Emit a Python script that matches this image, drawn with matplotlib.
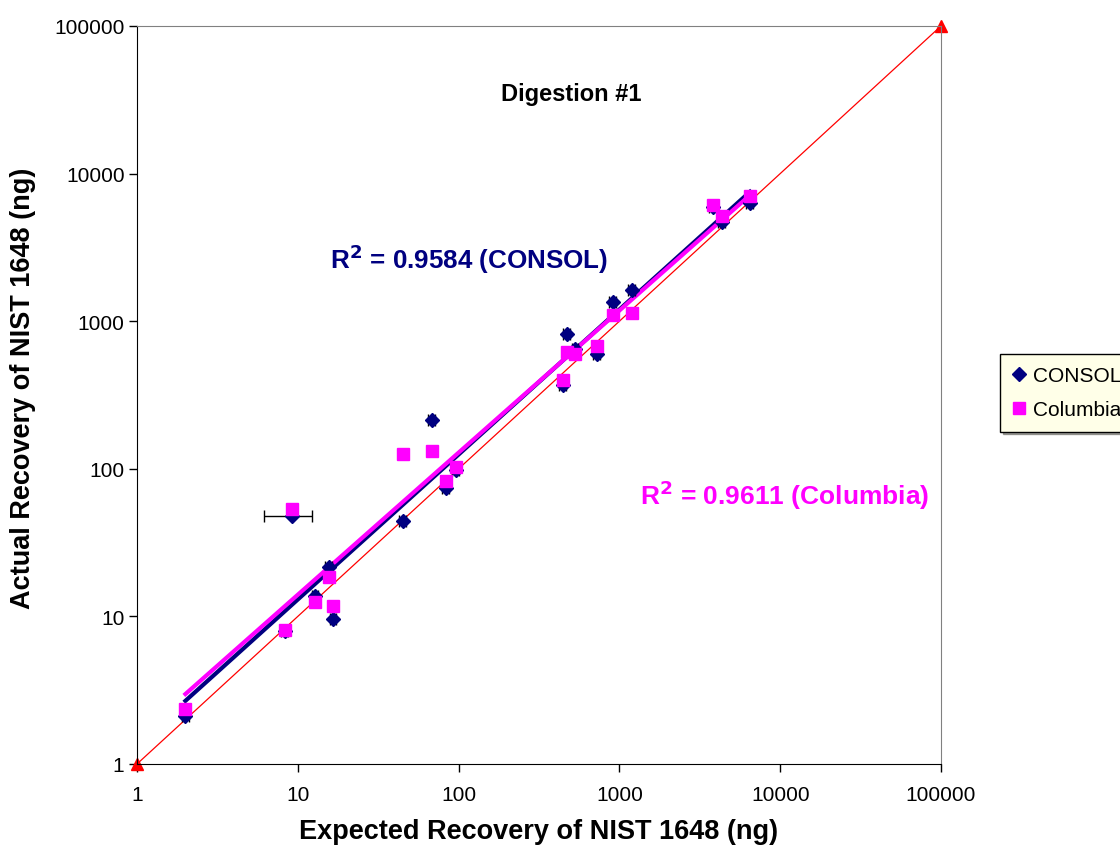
import numpy as np
import matplotlib
matplotlib.use("Agg")
import matplotlib.pyplot as plt
from matplotlib.ticker import FixedLocator, FixedFormatter, NullLocator

plt.rcParams['font.family'] = ['Liberation Sans', 'DejaVu Sans']

# expected recovery (ng) and measured recovery for each lab
expected = [2, 8.3, 9.2, 12.8, 15.6, 16.6, 45, 68, 83, 96,
            446, 472, 530, 726, 912, 1197, 3820, 4347, 6490]
consol = [2.1, 8.0, 48, 13.8, 21.6, 9.6, 44, 215, 74, 98,
          370, 819, 650, 600, 1350, 1630, 5900, 4700, 6300]
columbia = [2.35, 8.1, 53, 12.5, 18.5, 11.8, 126, 132, 83, 103,
            400, 618, 600, 679, 1100, 1137, 6100, 5160, 7050]
# horizontal uncertainty on expected values (CONSOL)
expected_err = [0.1, 0.4, 3.0, 0.6, 0.8, 0.8, 2.2, 3.4, 4.0, 4.8,
                22, 24, 26, 36, 45, 60, 190, 215, 320]
one_to_one = [1, 100000]
ticks = [1, 10, 100, 1000, 10000, 100000]
tick_labels = ["1", "10", "100", "1000", "10000", "100000"]

NAVY = "#000080"
MAGENTA = "#FF00FF"

fig = plt.figure(figsize=(11.2, 8.53), dpi=100)
ax = fig.add_axes([137/1120, 1-765/853, (941-137)/1120, (765-27)/853])
ax.set_xscale("log")
ax.set_yscale("log")
ax.set_xlim(1, 100000)
ax.set_ylim(1, 100000)

# 1:1 line
ax.plot(one_to_one, one_to_one, color="red", lw=0.9, marker="^", ms=9,
        clip_on=False, zorder=2)

# power trendlines (straight on log-log axes)
x = np.array(expected)
xs = np.sort(x)
for y, c in [(np.array(consol), NAVY), (np.array(columbia), MAGENTA)]:
    k, b = np.polyfit(np.log10(x), np.log10(y), 1)
    ax.plot(xs, 10**(k*np.log10(xs) + b), color=c, lw=3, zorder=3)

ax.errorbar(expected, consol, xerr=expected_err, fmt="D", color=NAVY, ms=7,
            ecolor="black", elinewidth=1, capsize=4, capthick=1, zorder=4,
            label="CONSOL")
ax.plot(expected, columbia, "s", color=MAGENTA, ms=9, zorder=5,
        label="Columbia")

ax.xaxis.set_major_locator(FixedLocator(ticks))
ax.xaxis.set_major_formatter(FixedFormatter(tick_labels))
ax.yaxis.set_major_locator(FixedLocator(ticks))
ax.yaxis.set_major_formatter(FixedFormatter(tick_labels))
ax.xaxis.set_minor_locator(NullLocator())
ax.yaxis.set_minor_locator(NullLocator())
ax.tick_params(axis="both", labelsize=15, length=6, width=1, direction="out")
ax.tick_params(axis="x", pad=9)
ax.tick_params(axis="y", pad=3)
for s in ["top", "right"]:
    ax.spines[s].set_color("#808080")
for s in ["left", "bottom"]:
    ax.spines[s].set_color("black")

ax.set_xlabel("Expected Recovery of NIST 1648 (ng)", fontsize=19.5,
              fontweight="bold", labelpad=10)
ax.set_ylabel("Actual Recovery of NIST 1648 (ng)", fontsize=19.5,
              fontweight="bold")
ax.yaxis.set_label_coords(-0.125, 0.51)

ax.text(0.54, 0.908, "Digestion #1", transform=ax.transAxes, fontsize=17,
        fontweight="bold", ha="center", va="center")
ax.text(0.240, 0.685, r"R$^\mathbf{2}$ = 0.9584 (CONSOL)", transform=ax.transAxes,
        fontsize=18.7, fontweight="bold", color=NAVY, ha="left", va="center")
ax.text(0.625, 0.366, r"R$^\mathbf{2}$ = 0.9611 (Columbia)", transform=ax.transAxes,
        fontsize=19, fontweight="bold", color=MAGENTA, ha="left", va="center")

handles = [plt.Line2D([], [], marker="D", color=NAVY, ls="", ms=7),
           plt.Line2D([], [], marker="s", color=MAGENTA, ls="", ms=9)]
leg = fig.legend(handles, ["CONSOL", "Columbia"], loc="upper left",
                 bbox_to_anchor=(1000/1120, 1-355/853), fontsize=15,
                 frameon=True, fancybox=False, shadow=True,
                 handlelength=0.6, handletextpad=0.4, borderpad=0.6,
                 labelspacing=0.7, borderaxespad=0)
leg.get_frame().set_facecolor("#FFFFE8")
leg.get_frame().set_edgecolor("black")
leg.get_frame().set_alpha(1)

fig.savefig("out.png", dpi=100)
